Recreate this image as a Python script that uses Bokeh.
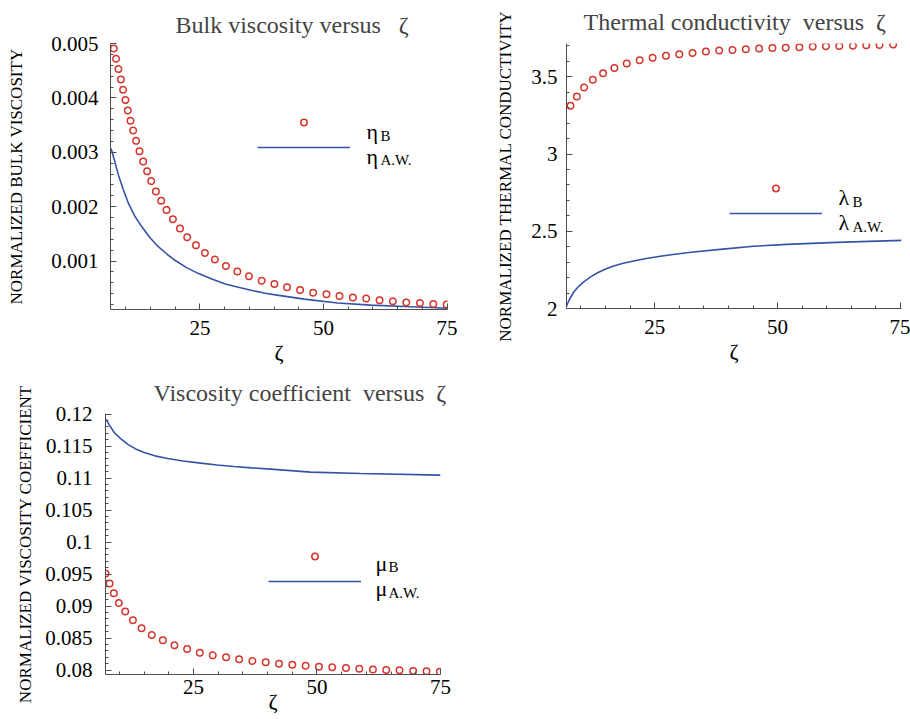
from bokeh.plotting import figure
from bokeh.layouts import column, row
from bokeh.models import (FixedTicker, CustomJSTickFormatter, Legend, LegendItem,
                          Label, Range1d)
from bokeh.embed import file_html
from bokeh.resources import INLINE

FONT = "Liberation Serif"
RED = "#d7342c"
BLUE = "#3553a6"
AXIS = "#4d4d4d"

# ---------------- data: bulk viscosity ----------------
zeta_bulk_B = [7.57, 8.04, 8.51, 8.99, 9.46, 9.93, 10.41, 10.95, 11.49, 12.09, 12.77,
               13.51, 14.32, 15.14, 16.08, 17.16, 18.24, 19.53, 20.95, 22.43, 24.19,
               26.01, 28.04, 30.27, 32.57, 34.93, 37.50, 40.07, 42.64, 45.27, 47.91,
               50.61, 53.24, 55.95, 58.65, 61.35, 64.05, 66.76, 69.53, 72.23, 74.93]
eta_B = [0.00491, 0.00472, 0.00453, 0.00434, 0.00415, 0.00396, 0.00377, 0.00358,
         0.00340, 0.00321, 0.00302, 0.00283, 0.00265, 0.00247, 0.00228, 0.00211,
         0.00194, 0.00177, 0.00160, 0.00144, 0.00129, 0.00115, 0.00103, 0.00091,
         0.00081, 0.00072, 0.00064, 0.00058, 0.00052, 0.00047, 0.00042, 0.00039,
         0.00036, 0.00033, 0.00031, 0.00028, 0.00026, 0.00024, 0.00023, 0.00021,
         0.00020]
zeta_bulk_AW = [7.03, 7.7, 8.51, 9.5, 10.54, 11.8, 13.24, 14.9, 16.62, 18.3, 20.01,
                22.3, 24.73, 27.4, 30.14, 32.8, 35.53, 38.2, 40.95, 46.08, 52.85,
                59.60, 66.35, 75.15]
eta_AW = [0.00307, 0.00285, 0.00258, 0.00231, 0.00206, 0.00183, 0.00163, 0.00143,
          0.00126, 0.00113, 0.00101, 0.00088, 0.00077, 0.00067, 0.00058, 0.00052,
          0.00046, 0.00041, 0.00037, 0.00030, 0.00023, 0.00019, 0.000165, 0.000134]

# ---------------- data: thermal conductivity ----------------
zeta_th_B = [7.88, 9.17, 10.66, 12.42, 14.51, 16.81, 19.32, 21.96, 24.59, 27.30,
             30.01, 32.71, 35.42, 38.13, 40.83, 43.54, 46.25, 48.95, 51.66, 54.43,
             57.14, 59.84, 62.55, 65.33, 68.03, 70.74, 73.51]
lambda_B = [3.313, 3.373, 3.431, 3.481, 3.524, 3.558, 3.586, 3.608, 3.623, 3.636,
            3.646, 3.655, 3.664, 3.670, 3.674, 3.679, 3.683, 3.687, 3.689, 3.692,
            3.696, 3.698, 3.700, 3.702, 3.704, 3.707, 3.709]
zeta_th_AW = [7.07, 7.6, 8.55, 9.5, 10.58, 11.9, 13.30, 14.9, 16.67, 18.6, 20.73,
              23.3, 26.15, 29.5, 32.91, 38.33, 45.09, 51.87, 62.01, 75.21]
lambda_AW = [2.015, 2.055, 2.107, 2.142, 2.172, 2.203, 2.230, 2.254, 2.275, 2.293,
             2.308, 2.324, 2.338, 2.353, 2.366, 2.383, 2.403, 2.415, 2.428, 2.441]

# ---------------- data: viscosity coefficient ----------------
zeta_visc_B = [7.21, 8.02, 8.89, 9.91, 11.19, 12.74, 14.49, 16.58, 18.80, 21.16,
               23.72, 26.28, 28.91, 31.60, 34.23, 36.93, 39.62, 42.32, 45.01, 47.71,
               50.40, 53.10, 55.86, 58.56, 61.32, 64.02, 66.71, 69.47, 72.17, 74.87]
mu_B = [0.09507, 0.09351, 0.09199, 0.09048, 0.08913, 0.08777, 0.08652, 0.08548,
        0.08464, 0.08386, 0.08329, 0.08271, 0.08229, 0.08198, 0.08167, 0.08141,
        0.08120, 0.08099, 0.08083, 0.08068, 0.08052, 0.08042, 0.08031, 0.08021,
        0.08010, 0.08000, 0.07995, 0.07984, 0.07979, 0.07974]
zeta_visc_AW = [7.28, 7.9, 8.96, 10.2, 11.66, 13.2, 15.02, 17.2, 19.75, 22.9, 26.48,
                29.8, 33.21, 36.8, 40.63, 48.71, 58.82, 74.99]
mu_AW = [0.11922, 0.11840, 0.11713, 0.11620, 0.11531, 0.11460, 0.11400, 0.11348,
         0.11306, 0.11267, 0.11234, 0.11206, 0.11181, 0.11160, 0.11140, 0.11093,
         0.11071, 0.11046]

# ---------------- ticks ----------------
x_major = [25, 50, 75]
x_minor = [10, 15, 20, 30, 35, 40, 45, 55, 60, 65, 70]
y1_major = [0.001, 0.002, 0.003, 0.004, 0.005]
y2_major = [2, 2.5, 3, 3.5]
y3_major = [0.08, 0.085, 0.09, 0.095, 0.1, 0.105, 0.11, 0.115, 0.12]


def minor_between(majors, step, lo, hi):
    out = []
    i = 0
    while True:
        v = round(lo + i * step, 6)
        if v > hi:
            break
        if all(abs(v - m) > step / 10 for m in majors):
            out.append(v)
        i += 1
    return out


y1_minor = minor_between(y1_major, 0.0002, 0.0002, 0.0049)
y2_minor = minor_between(y2_major, 0.1, 2.0, 3.7)
y3_minor = minor_between(y3_major, 0.001, 0.08, 0.12)

fmt = CustomJSTickFormatter(code="return tick.toString();")


def add_text(p, x, y, text, size):
    p.add_layout(Label(x=x, y=y, x_units="screen", y_units="screen", text=text,
                       text_font=FONT, text_font_size=size, text_color="black",
                       text_baseline="alphabetic", text_align="left"))


def make_panel(xs_pts, ys_pts, xs_line, ys_line, x_rng, y_rng, frame_w, frame_h,
               borders, title, title_offset, title_valign, title_standoff,
               ylabel, y_major, y_minor, ylab_standoff, ytick_standoff,
               xtick_standoff, xlab_standoff, leg_loc, sym, sym_pos, sub_pos):
    bl, br, bt, bb = borders
    p = figure(frame_width=frame_w, frame_height=frame_h,
               min_border_left=bl, min_border_right=br,
               min_border_top=bt, min_border_bottom=bb,
               x_range=Range1d(*x_rng), y_range=Range1d(*y_rng),
               output_backend="svg", toolbar_location=None)
    p.outline_line_color = None
    p.xgrid.visible = False
    p.ygrid.visible = False
    p.background_fill_color = "white"
    p.border_fill_color = "white"

    p.title.text = title
    p.title.text_font = FONT
    p.title.text_font_size = "24px"
    p.title.text_font_style = "normal"
    p.title.align = "left"
    p.title.offset = title_offset
    p.title.vertical_align = title_valign
    p.title.standoff = title_standoff

    for ax in (p.xaxis[0], p.yaxis[0]):
        ax.axis_line_color = AXIS
        ax.major_tick_line_color = AXIS
        ax.minor_tick_line_color = AXIS
        ax.major_tick_in = 6
        ax.major_tick_out = 0
        ax.minor_tick_in = 3
        ax.minor_tick_out = 0
        ax.major_label_text_font = FONT
        ax.major_label_text_font_size = "21px"
        ax.major_label_text_color = "black"
        ax.axis_label_text_font = FONT
        ax.axis_label_text_font_style = "normal"
        ax.axis_label_text_color = "black"
        ax.formatter = fmt

    p.xaxis.ticker = FixedTicker(ticks=x_major, minor_ticks=x_minor)
    p.xaxis.axis_label = "ζ"
    p.xaxis.axis_label_text_font_size = "22px"
    p.xaxis.major_label_standoff = xtick_standoff
    p.xaxis.axis_label_standoff = xlab_standoff

    p.yaxis.ticker = FixedTicker(ticks=y_major, minor_ticks=y_minor)
    p.yaxis.axis_label = ylabel
    p.yaxis.axis_label_text_font_size = "17px"
    p.yaxis.major_label_standoff = ytick_standoff
    p.yaxis.axis_label_standoff = ylab_standoff

    ln = p.line(xs_line, ys_line, line_color=BLUE, line_width=1.6)
    pts = p.scatter(xs_pts, ys_pts, marker="circle", size=6.5, fill_color=None,
                    line_color=RED, line_width=1.5)

    leg = Legend(items=[LegendItem(label="", renderers=[pts]),
                        LegendItem(label="", renderers=[ln])],
                 location=leg_loc, orientation="vertical",
                 glyph_width=93, glyph_height=16, label_height=16, label_width=1,
                 label_standoff=0, spacing=9, padding=0, margin=0,
                 border_line_alpha=0, background_fill_alpha=0,
                 label_text_font_size="1px")
    p.add_layout(leg)

    (sx1, sy1), (sx2, sy2) = sym_pos
    (bx1, by1), (bx2, by2) = sub_pos
    add_text(p, sx1, sy1, sym, "22px")
    add_text(p, sx2, sy2, sym, "22px")
    add_text(p, bx1, by1, "B", "15px")
    add_text(p, bx2, by2, "A.W.", "15px")
    return p


p1 = make_panel(zeta_bulk_B, eta_B, zeta_bulk_AW, eta_AW,
                (6.9, 75.1), (0.00011, 0.005), 337, 266, (110, 43, 43, 61),
                "Bulk viscosity versus \u2002ζ", 65, "bottom", 12,
                "NORMALIZED BULK VISCOSITY", y1_major, y1_minor, 22, 12, 11, 2,
                (147, 154), "η", ((256, 178), (256, 153)), ((270, 174), (270, 150)))

p2 = make_panel(zeta_th_B, lambda_B, zeta_th_AW, lambda_AW,
                (7.07, 75.2), (2.0, 3.716), 335, 265, (76, 9, 43, 62),
                "Thermal conductivity\u2002versus\u2002ζ", 17, "top", 14,
                "NORMALIZED THERMAL CONDUCTIVITY", y2_major, y2_minor, 13, 9, 11, 2,
                (163, 87), "λ", ((272, 111), (272, 86)), ((286, 107), (286, 82)))

p3 = make_panel(zeta_visc_B, mu_B, zeta_visc_AW, mu_AW,
                (7.2, 75.0), (0.0793, 0.1201), 335, 261, (105, 20, 43, 45),
                "Viscosity coefficient\u2002versus\u2002ζ", 48, "top", 11,
                "NORMALIZED VISCOSITY COEFFICIENT", y3_major, y3_minor, 7, 13, 5, -8,
                (163, 85), "μ", ((270, 111), (270, 86)), ((283, 108), (283, 82)))

layout = column(row(p1, p2), p3)
open("out.html", "w").write(file_html(layout, INLINE))
